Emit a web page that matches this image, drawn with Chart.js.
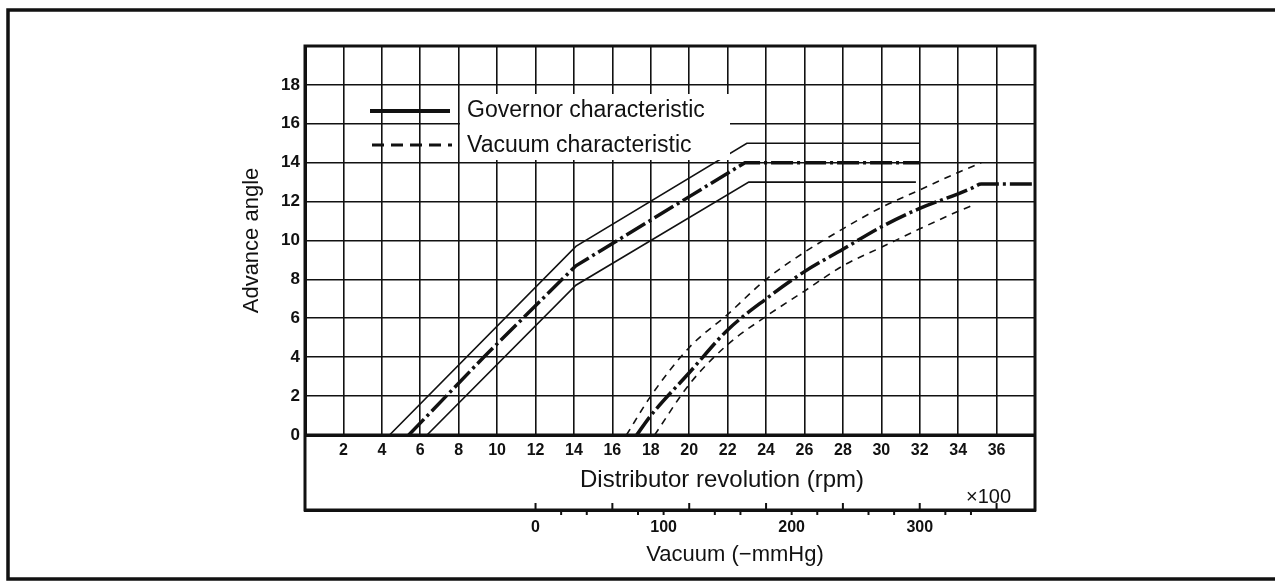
<!DOCTYPE html>
<html>
<head>
<meta charset="utf-8">
<title>Advance angle</title>
<script src="https://cdn.jsdelivr.net/npm/chart.js@4"></script>
<style>
html, body { margin: 0; background: #fff; }
#wrap { width: 1275px; height: 585px; position: relative; }
</style>
</head>
<body>
<div id="wrap"><canvas id="advanceChart"></canvas></div>
<script>

// governor characteristic, x in rpm x100, y in degrees
const govCenterRpm = [5.4, 9.3, 14.1, 22.9, 32];
const govCenterDeg = [0, 4, 8.7, 14, 14];
const govUpperRpm = [4.4, 14.1, 23, 32];
const govUpperDeg = [0, 9.7, 15, 15];
const govLowerRpm = [6.35, 14.1, 23.1, 31.8];
const govLowerDeg = [0, 7.7, 13, 13];

// vacuum characteristic, x in -mmHg
const vacCenterMmHg = [79, 90, 120, 150, 180, 210, 240, 270, 300, 330, 341, 348, 390];
const vacCenterDeg = [0, 1.0, 3.2, 5.4, 7.0, 8.4, 9.55, 10.7, 11.65, 12.4, 12.7, 12.9, 12.9];
const vacUpperMmHg = [71, 90, 120, 150, 180, 210, 240, 270, 300, 330, 348];
const vacUpperDeg = [0, 2.0, 4.5, 6.2, 8.0, 9.4, 10.6, 11.7, 12.6, 13.5, 14.0];
const vacLowerMmHg = [93, 120, 150, 180, 210, 240, 270, 300, 330, 343];
const vacLowerDeg = [0, 2.6, 4.65, 6.1, 7.4, 8.7, 9.65, 10.6, 11.5, 11.85];

// axes
const vacuumTicks = [0, 20, 40, 60, 80, 100, 120, 140, 160, 180, 200, 220, 240, 260, 280, 300, 320, 340, 360];
const vacuumLabels = [0, 100, 200, 300];
const legendLabels = ["Governor characteristic", "Vacuum characteristic"];

const ink = "#111";
const FONT = "'Liberation Sans', Arial, sans-serif";

function pts(xs, ys) {
    return xs.map((x, i) => ({ x: x, y: ys[i] }));
}

const dashDot = [22, 4, 3, 4];

const decor = {
    id: "decor",
    afterDraw(chart) {
        const ctx = chart.ctx;
        const a = chart.chartArea;
        const xv = chart.scales.xv;
        ctx.save();
        ctx.strokeStyle = ink;
        ctx.fillStyle = ink;

        // plot frame and lower box
        ctx.lineWidth = 3;
        ctx.strokeRect(a.left, a.top, a.right - a.left, xv.top - a.top);
        ctx.beginPath();
        ctx.moveTo(a.left, a.bottom);
        ctx.lineTo(a.right, a.bottom);
        ctx.stroke();

        // vacuum scale ticks
        ctx.lineWidth = 2;
        vacuumTicks.forEach(v => {
            const px = xv.getPixelForValue(v);
            ctx.beginPath();
            if (v % 60 === 0) {
                ctx.moveTo(px, xv.top);
                ctx.lineTo(px, xv.top - 7);
            } else {
                ctx.moveTo(px, xv.top);
                ctx.lineTo(px, xv.top + 5);
            }
            ctx.stroke();
        });

        // axis captions
        ctx.textBaseline = "middle";
        ctx.textAlign = "center";
        ctx.font = "24px " + FONT;
        ctx.fillText("Distributor revolution (rpm)", 722, 480);
        ctx.font = "22px " + FONT;
        ctx.fillText("Vacuum (\u2212mmHg)", 735, 555);
        ctx.textAlign = "left";
        ctx.font = "20px " + FONT;
        ctx.fillText("\u00d7100", 966, 497);

        // legend
        ctx.fillStyle = "#fff";
        ctx.fillRect(460, 94, 270, 66);
        ctx.fillStyle = ink;
        ctx.lineWidth = 4;
        ctx.beginPath();
        ctx.moveTo(370, 111);
        ctx.lineTo(450, 111);
        ctx.stroke();
        ctx.lineWidth = 3;
        ctx.setLineDash([12, 7]);
        ctx.beginPath();
        ctx.moveTo(372, 145);
        ctx.lineTo(452, 145);
        ctx.stroke();
        ctx.setLineDash([]);
        ctx.font = "23px " + FONT;
        ctx.fillText(legendLabels[0], 467, 111);
        ctx.fillText(legendLabels[1], 467, 146);

        // outer frame
        ctx.lineWidth = 3.5;
        ctx.strokeRect(8, 10, 1290, 569);
        ctx.restore();
    }
};

new Chart(
document.getElementById("advanceChart"),
{
type: "line",

data: {
datasets: [
{
label: "Governor",
data: pts(govCenterRpm, govCenterDeg),
xAxisID: "x",
borderColor: ink,
borderWidth: 3.5,
borderDash: dashDot,
pointRadius: 0,
tension: 0
},
{
label: "Governor upper",
data: pts(govUpperRpm, govUpperDeg),
xAxisID: "x",
borderColor: ink,
borderWidth: 1.6,
pointRadius: 0,
tension: 0
},
{
label: "Governor lower",
data: pts(govLowerRpm, govLowerDeg),
xAxisID: "x",
borderColor: ink,
borderWidth: 1.6,
pointRadius: 0,
tension: 0
},
{
label: "Vacuum",
data: pts(vacCenterMmHg, vacCenterDeg),
xAxisID: "xv",
borderColor: ink,
borderWidth: 3.5,
borderDash: dashDot,
pointRadius: 0,
cubicInterpolationMode: "monotone"
},
{
label: "Vacuum upper",
data: pts(vacUpperMmHg, vacUpperDeg),
xAxisID: "xv",
borderColor: ink,
borderWidth: 1.6,
borderDash: [7, 6],
pointRadius: 0,
cubicInterpolationMode: "monotone"
},
{
label: "Vacuum lower",
data: pts(vacLowerMmHg, vacLowerDeg),
xAxisID: "xv",
borderColor: ink,
borderWidth: 1.6,
borderDash: [7, 6],
pointRadius: 0,
cubicInterpolationMode: "monotone"
}
]
},

options: {
responsive: true,
maintainAspectRatio: false,
animation: false,
layout: {
padding: { left: 236, right: 240, top: 46, bottom: 0 }
},
plugins: {
legend: { display: false },
tooltip: { enabled: false }
},
scales: {
x: {
type: "linear",
position: "bottom",
weight: 0,
min: 0,
max: 38,
afterFit: s => { s.height = 75; },
grid: { color: ink, lineWidth: 1.6, drawTicks: false },
border: { display: true, color: ink, width: 3 },
ticks: {
stepSize: 2,
padding: 6,
color: ink,
maxRotation: 0,
autoSkip: false,
font: { family: FONT, size: 16, weight: "bold" },
callback: v => (v === 0 || v === 38) ? "" : v
}
},
xv: {
type: "linear",
position: "bottom",
weight: 1,
min: -180,
max: 390,
afterFit: s => { s.height = 75; },
afterBuildTicks: s => { s.ticks = vacuumTicks.map(v => ({ value: v })); },
grid: { display: false, drawTicks: false },
border: { display: true, color: ink, width: 3 },
ticks: {
padding: 8,
color: ink,
maxRotation: 0,
autoSkip: false,
font: { family: FONT, size: 16, weight: "bold" },
callback: v => vacuumLabels.includes(v) ? v : ""
}
},
y: {
min: 0,
max: 20,
afterFit: s => { s.width = 69; },
grid: { color: ink, lineWidth: 1.6, drawTicks: false },
border: { display: true, color: ink, width: 3 },
title: {
display: true,
text: "Advance angle",
color: ink,
padding: { top: 3, bottom: 0 },
font: { family: FONT, size: 22 }
},
ticks: {
stepSize: 2,
padding: 5,
color: ink,
font: { family: FONT, size: 17, weight: "bold" },
callback: v => v === 20 ? "" : v
}
}
}
},

plugins: [decor]

});

</script>
</body>
</html>
